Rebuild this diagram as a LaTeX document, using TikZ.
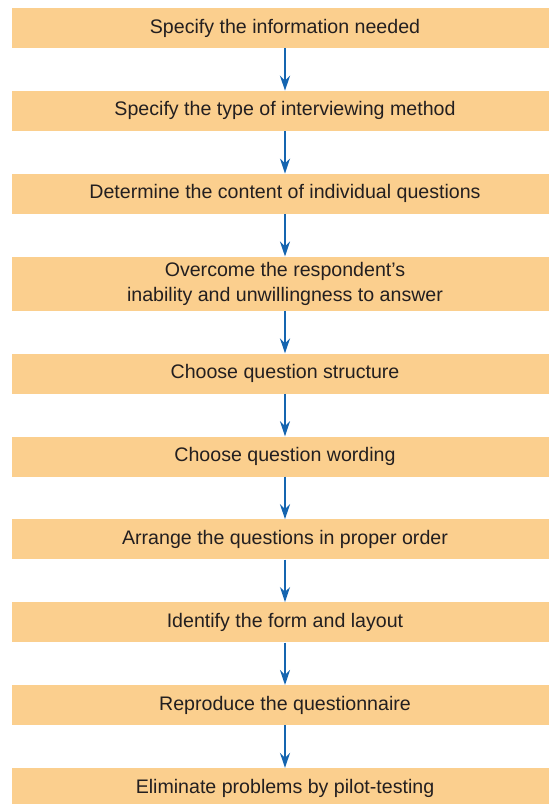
\documentclass[tikz,border=0pt]{standalone}
\usepackage{fontspec}
\setmainfont{Liberation Sans}
\usetikzlibrary{arrows.meta,positioning}
\definecolor{boxfill}{HTML}{FBCF8E}
\definecolor{arrowblue}{HTML}{1565B0}
\definecolor{textgray}{HTML}{231F20}

\begin{document}
\begin{tikzpicture}[x=1pt,y=1pt,node distance=42.5pt,every node/.style={fill=boxfill,minimum width=546pt,minimum height=40pt,inner sep=0pt,align=center,text=textgray,font=\fontsize{19.6pt}{25pt}\selectfont}]
      \useasboundingbox (0,0) rectangle (549,-804);
      \node (s1) at (285,-28) {Specify the information needed};
      \node[below=of s1] (s2) {Specify the type of interviewing method};
      \node[below=of s2] (s3) {Determine the content of individual questions};
      \node[below=of s3,minimum height=54pt] (s4) {Overcome the respondent’s\\inability and unwillingness to answer};
      \node[below=of s4] (s5) {Choose question structure};
      \node[below=of s5] (s6) {Choose question wording};
      \node[below=of s6] (s7) {Arrange the questions in proper order};
      \node[below=of s7] (s8) {Identify the form and layout};
      \node[below=of s8] (s9) {Reproduce the questionnaire};
      \node[below=of s9] (s10) {Eliminate problems by pilot-testing};
      \foreach \a/\b in {s1/s2,s2/s3,s3/s4,s4/s5,s5/s6,s6/s7,s7/s8,s8/s9,s9/s10}
        \draw[-{Stealth[length=15pt,width=10pt]},line width=2.2pt,arrowblue] (\a)--(\b);
    \end{tikzpicture}
\end{document}
